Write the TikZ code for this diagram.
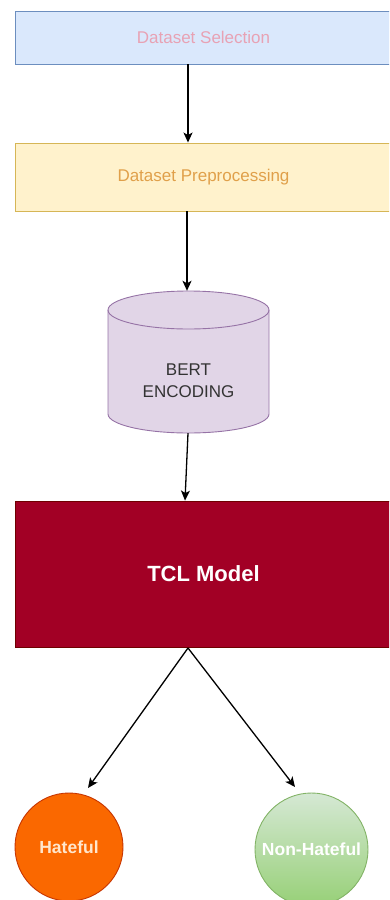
\documentclass[tikz,border=0pt]{standalone}
\usepackage{fontspec}
\setmainfont{Liberation Sans}
\usetikzlibrary{arrows.meta,calc}

\definecolor{selFill}{HTML}{DAE8FC}
\definecolor{selLine}{HTML}{6C8EBF}
\definecolor{selText}{HTML}{E8A2B4}
\definecolor{preFill}{HTML}{FFF2CC}
\definecolor{preLine}{HTML}{D6B656}
\definecolor{preText}{HTML}{E0A04A}
\definecolor{bertFill}{HTML}{E1D5E7}
\definecolor{bertLine}{HTML}{9673A6}
\definecolor{tclFill}{HTML}{A20025}
\definecolor{tclLine}{HTML}{6F0000}
\definecolor{hateFill}{HTML}{FA6800}
\definecolor{hateLine}{HTML}{C73500}
\definecolor{hateText}{HTML}{FFE6CC}
\definecolor{nonTop}{HTML}{D5E8D4}
\definecolor{nonBot}{HTML}{97D077}
\definecolor{nonLine}{HTML}{82B366}

\tikzset{
  stagebox/.style={rectangle, draw, line width=0.9pt, minimum width=377pt,
    inner sep=0pt, font=\fontsize{17}{20}\selectfont},
  flow/.style={-{Stealth[length=10pt,width=9pt,inset=2.5pt]}, line width=1.3pt, black},
  outcome/.style={circle, draw, line width=0.9pt, inner sep=0pt,
    font=\bfseries\fontsize{17.5}{20}\selectfont},
}

\begin{document}
\begin{tikzpicture}[x=1pt,y=-1pt]
  \useasboundingbox (0,0) rectangle (389,900);
  \clip (0,0) rectangle (389,900);

  % pipeline stages
  \node[stagebox, fill=selFill, draw=selLine, text=selText, minimum height=53pt]
    (sel) at (203.5,37.5) {Dataset Selection};
  \node[stagebox, fill=preFill, draw=preLine, text=preText, minimum height=68pt]
    (pre) at (203.5,177) {Dataset Preprocessing};

  % BERT encoding drum
  \def\cx{188.5}\def\rx{80.5}\def\ry{19}
  \filldraw[fill=bertFill, draw=bertLine, line width=0.9pt]
    (\cx-\rx,310) -- (\cx-\rx,414)
    arc[start angle=180, end angle=360, x radius=\rx, y radius=-\ry]
    -- (\cx+\rx,310)
    arc[start angle=0, end angle=180, x radius=\rx, y radius=-\ry] -- cycle;
  \draw[draw=bertLine, line width=0.9pt]
    (\cx-\rx,310) arc[start angle=180, end angle=360, x radius=\rx, y radius=-\ry];
  \node[minimum width=161pt, minimum height=142pt, inner sep=0pt]
    (bert) at (\cx,362) {};
  \node[align=center, text=black!80, font=\fontsize{17}{22}\selectfont]
    (bertLabel) at (\cx,381) {BERT\\ENCODING};

  % classifier
  \node[stagebox, fill=tclFill, draw=tclLine, text=white, minimum height=146pt,
    font=\bfseries\fontsize{22}{26}\selectfont]
    (tcl) at (203.5,574) {TCL Model};

  % outcomes
  \node[outcome, fill=hateFill, draw=hateLine, text=hateText, minimum size=108pt]
    (hate) at (69,847) {Hateful};
  \node[outcome, top color=nonTop, bottom color=nonBot, draw=nonLine, text=white,
    minimum size=113pt]
    (non) at (311.5,849.5) {Non-Hateful};

  \coordinate (hateTip) at (88,788);
  \coordinate (nonTip) at (295,787);
  \coordinate (split) at (188,648);

  % connectors
  \draw[flow] (sel.south -| split) -- (pre.north -| split);
  \draw[flow] (pre.south -| 187,0) -- (bert.north -| 187,0);
  \draw[flow] (bert.south -| 188,0) -- (tcl.north -| 185,0);
  \draw[flow] (split) -- (hateTip);
  \draw[flow] (split) -- (nonTip);
\end{tikzpicture}
\end{document}
